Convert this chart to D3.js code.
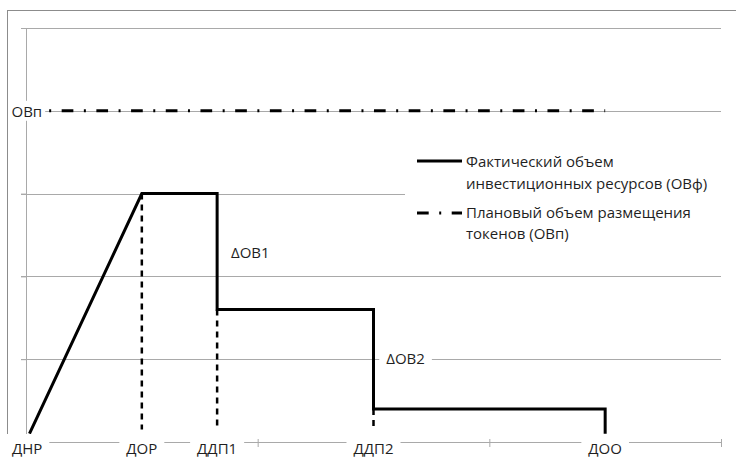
<!DOCTYPE html>
<html>
<head>
<meta charset="utf-8">
<script src="https://cdn.jsdelivr.net/npm/d3@7"></script>
<style>
  body { margin: 0; background: #fff; }
  text { font-family: "Open Sans", sans-serif; font-size: 15px; fill: #1f1f1f; }
</style>
</head>
<body>
<div id="chart"></div>
<script>
// Fact line (ОВф): x in "periods", y in volume units
const factX = [0.015, 0.5, 0.825, 0.825, 1.5, 1.5, 2.5, 2.5];
const factY = [0.1, 3, 3, 1.6, 1.6, 0.4, 0.4, 0.1];

// Plan line (ОВп)
const planX = [0.1, 2.5];
const planY = [4, 4];
const planLabel = "ОВп";

// Milestones on the x axis
const milestones = ["ДНР", "ДОР", "ДДП1", "ДДП2", "ДОО"];
const milestoneX = [0.005, 0.5, 0.825, 1.5, 2.5];

// Dashed guides dropping from the fact line
const guideX = [0.5, 0.825, 1.5];
const guideTop = [3, 1.6, 0.4];
const guideBottom = 0.15;

// Delta annotations
const deltaLabels = ["ΔОВ1", "ΔОВ2"];
const deltaX = [0.885, 1.555];
const deltaY = [2.28, 1.0];

// Axis ticks
const xTicks = [0, 1, 2, 3];
const yTicks = [0, 1, 2, 3, 4, 5];

// Legend
const legendLines = [
  ["Фактический объем", "инвестиционных ресурсов (ОВф)"],
  ["Плановый объем размещения", "токенов (ОВп)"]
];

var W = 736, H = 457;
var gridColor = "#a9a9a9";
var planDash = "2,10.5,11.7,10.5";

var svg = d3.select("#chart").append("svg")
    .attr("width", W)
    .attr("height", H);

// outer chart border
svg.append("rect")
    .attr("x", 7.5).attr("y", 10.5)
    .attr("width", 740).attr("height", 470)
    .attr("fill", "#fff")
    .attr("stroke", "#8c8c8c");

const x = d3.scaleLinear().domain([0, 3]).range([26, 721]);
const y = d3.scaleLinear().domain([0, 5]).range([442, 28]);

const crisp = v => Math.round(v) + 0.5;

// horizontal gridlines
svg.append("g")
    .selectAll("line")
    .data(yTicks.slice(1))
    .join("line")
    .attr("x1", x(0) - 5)
    .attr("x2", x(3))
    .attr("y1", d => crisp(y(d)))
    .attr("y2", d => crisp(y(d)))
    .attr("stroke", gridColor);

// y axis
var yAxis = svg.append("g")
    .attr("transform", "translate(" + Math.round(x(0)) + ",0)")
    .call(d3.axisLeft(y).tickValues(yTicks).tickSize(5).tickSizeOuter(0).tickFormat(""));
yAxis.selectAll("path, line").attr("stroke", gridColor);

// x axis
var xAxis = svg.append("g")
    .attr("transform", "translate(0," + Math.round(y(0)) + ")")
    .call(d3.axisBottom(x).tickValues(xTicks).tickSize(5).tickSizeOuter(0).tickFormat(""));
xAxis.selectAll("path, line").attr("stroke", gridColor);
xAxis.selectAll(".tick line").attr("y1", -3);

// legend box (white, hides gridline underneath)
var legend = svg.append("g");
legend.append("rect")
    .attr("x", 405).attr("y", 140)
    .attr("width", 320).attr("height", 108)
    .attr("fill", "#fff");

// dashed guides
svg.append("g")
    .selectAll("line")
    .data(guideX)
    .join("line")
    .attr("x1", d => x(d))
    .attr("x2", d => x(d))
    .attr("y1", (d, i) => y(guideTop[i]))
    .attr("y2", y(guideBottom))
    .attr("stroke", "#000")
    .attr("stroke-width", 2.5)
    .attr("stroke-dasharray", "6,5");

// plan line
var line = d3.line().x(d => x(d[0])).y(d => y(d[1]));
svg.append("path")
    .datum(d3.zip(planX, planY))
    .attr("fill", "none")
    .attr("stroke", "#000")
    .attr("stroke-width", 3)
    .attr("stroke-dasharray", planDash)
    .attr("d", line);

// fact line
svg.append("path")
    .datum(d3.zip(factX, factY))
    .attr("fill", "none")
    .attr("stroke", "#000")
    .attr("stroke-width", 3)
    .attr("stroke-linejoin", "miter")
    .attr("d", line);

// helper: text with a white box behind it
function labelWithBg(g, tx, ty, str, anchor, padX, boxTop, boxBottom) {
    var bg = g.append("rect").attr("fill", "#fff");
    var t = g.append("text")
        .attr("x", tx).attr("y", ty)
        .attr("text-anchor", anchor)
        .text(str);
    var b = t.node().getBBox();
    var top = boxTop != null ? boxTop : b.y;
    var bottom = boxBottom != null ? boxBottom : b.y + b.height;
    bg.attr("x", b.x - padX).attr("width", b.width + 2 * padX)
      .attr("y", top).attr("height", bottom - top);
    return t;
}

// plan label on the left
var labels = svg.append("g");
labelWithBg(labels, x(planX[0]) - 7, y(planY[0]) + 6, planLabel, "end", 3);

// milestone labels on x axis
milestones.forEach(function(m, i) {
    labelWithBg(labels, x(milestoneX[i]), 454, m, "middle", 7, 434, 465);
});

// delta annotations
deltaLabels.forEach(function(d, i) {
    labelWithBg(labels, x(deltaX[i]), y(deltaY[i]) + 5, d, "start", 7);
});

// legend content
var lx1 = 417, lx2 = 462, tx = 466;
var rows = [
  {sy: 161, base: [167, 189], dash: null},
  {sy: 213, base: [218, 239], dash: planDash}
];
rows.forEach(function(r, i) {
    legend.append("line")
        .attr("x1", lx1).attr("x2", lx2)
        .attr("y1", r.sy).attr("y2", r.sy)
        .attr("stroke", "#000")
        .attr("stroke-width", 3)
        .attr("stroke-dasharray", r.dash)
        .attr("stroke-dashoffset", r.dash ? 12.5 : null);
    legendLines[i].forEach(function(s, j) {
        legend.append("text")
            .attr("x", tx).attr("y", r.base[j])
            .text(s);
    });
});
</script>
</body>
</html>
